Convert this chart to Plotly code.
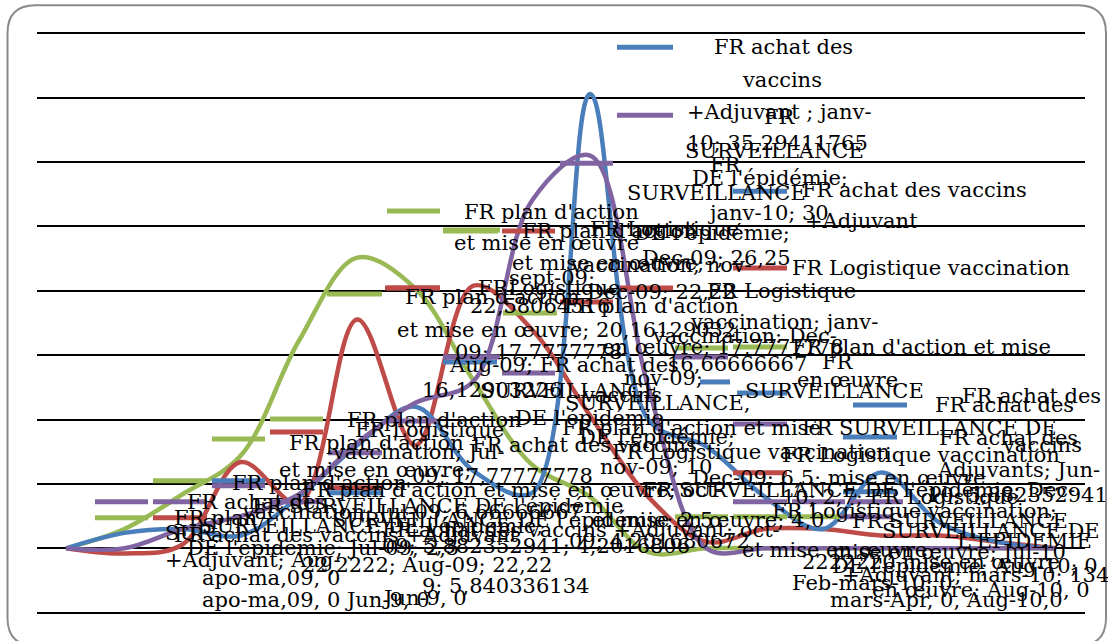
import plotly.graph_objects as go

# ---------------- data ----------------
months = ["apr-09", "may-09", "Jun-09", "Jul-09", "Aug-09", "sept-09", "oct-09", "nov-09",
          "Dec-09", "janv-10", "Feb-10", "mars-10", "Apr-10", "May-10", "Jun-10", "Jul-10",
          "Aug-10", "sept-10"]

achat_vaccins = [0, 1.2, 1.5, 1.0, 4.0, 8.0, 11.0, 6.0, 4.3, 35.29411765, 10.0, 7.9, 4.0, 1.5,
                 5.882352941, 2.0, 0.5, 0]
surveillance = [0, 0, 1.5, 2.5, 4.2, 8.2, 11.3, 13.0, 27.0, 30.5, 12.5, 0, 0, 0, 0, 0, 0, 0]
logistique = [0, -0.4, 0.3, 6.7, 3.5, 17.7777778, 8.0, 20.4, 17.0, 10.3, 4.0, 0.5, 1.5,
              1.5, 1.0, 1.0, 0.5, 0]
plan_action = [0, 1.5, 4.2, 7.2, 16.12903226, 22.58064516, 20.16129032, 13.0, 6.5, 4.0, -0.3,
               0, 0, 0, 0, 0, 0, 0]

series_names = ["FR achat des vaccins +Adjuvant", "FR SURVEILLANCE DE l'épidémie",
                "FR Logistique vaccination", "FR plan d'action et mise en œuvre"]
series_colors = ["#4A7EBB", "#8064A2", "#BE4B48", "#98B954"]

y_ticks = [-5, 0, 5, 10, 15, 20, 25, 30, 35, 40]

# data-label texts (as they appear, overlapping) : text, left px, middle px
data_labels = [
    ("FR achat des", 712, 47), ("vaccins", 740, 80),
    ("+Adjuvant ; janv-", 685, 112), ("FR", 762, 117),
    ("10; 35,29411765", 685, 143), ("SURVEILLANCE", 683, 151),
    ("FR", 708, 165), ("DE l'épidémie;", 690, 178),
    ("SURVEILLANCE", 625, 193), ("FR achat des vaccins", 800, 190),
    ("FR plan d'action", 462, 212), ("janv-10; 30", 705, 213),
    ("+Adjuvant", 803, 221), ("DE l'épidémie;", 632, 233),
    ("FR plan d'action", 520, 231), ("FR Logistique", 588, 229),
    ("et mise en œuvre", 452, 243), ("Dec-09; 26,25", 640, 258),
    ("et mise en œuvre;", 510, 263), ("vaccination; nov-", 568, 265),
    ("FR Logistique vaccination", 790, 268), ("sept-09;", 507, 278),
    ("FR Logistique", 705, 291), ("FR plan d'action", 403, 297),
    ("FRLogistique", 476, 288), ("Dec-09; 22,22", 585, 292),
    ("22,58064516", 468, 306), ("FR plan d'action", 562, 306),
    ("vaccination; janv-", 688, 322), ("et mise en œuvre; 20,16129032", 395, 330),
    ("vaccination: Dec-", 650, 336), ("09; 17,7777778", 453, 352),
    ("en œuvre; 17,7777778", 600, 347), ("FR plan d'action et mise", 790, 347),
    ("Aug-09; FR achat des", 447, 365), ("16,66666667", 665, 364),
    ("FR", 820, 362), ("en œuvre", 795, 380), ("nov-09;", 622, 378),
    ("16,12903226", 420, 390), ("SURVEILLANCE", 478, 391),
    ("vaccins", 580, 395), ("SURVEILLANCE", 743, 391),
    ("FR achat des", 933, 405), ("FR achat des", 960, 396),
    ("SURVEILLANCE,", 563, 403), ("FR plan d'action", 345, 420),
    ("FR Logistique", 353, 430), ("DE l'épidémie", 513, 418),
    ("FR SURVEILLANCE DE", 800, 428), ("FR plan d'action et mise", 560, 428),
    ("FR plan d'action", 287, 443), ("DE l'épidémie;", 577, 437),
    ("FR achat des", 937, 438), ("vaccination; Jul-", 330, 452),
    ("FR achat des vaccins", 470, 445), ("FR Logistique vaccination", 610, 452),
    ("FR Logistique vaccination", 780, 455), ("vaccins", 1000, 445),
    ("et mise en œuvre;", 277, 470), ("nov-09; 10", 598, 467),
    ("09; 17,77777778", 410, 476), ("Adjuvants; Jun-", 935, 470),
    ("Dec-09; 6,5; mise en œuvre", 690, 478), ("FR plan d'action", 230, 483),
    ("FR plan d'action et mise en œuvre; oct-", 300, 490),
    ("FR SURVEILLANCE DE l'épidémie; Dec-", 640, 490),
    ("10; 5,882352941", 925, 495), ("10; 2,7; FR Logistique", 780, 497),
    ("FR achat des", 185, 502), ("FR SURVEILLANCE DE l'épidémie", 250, 506),
    ("vaccination; Jul-09; 6,66666667", 240, 512), ("FR Logistique vaccination;", 770, 511),
    ("FR plan", 172, 518), ("SURVEILLANCE DE l'épidémie; 2,5", 330, 520),
    ("et mise en œuvre; 4,0", 590, 520), ("FR SURVEILLANCE", 850, 521),
    ("SURVEILLANCE DE l'épidémie;", 200, 526), ("FR achat des vaccins +Adjuvant; oct-", 380, 530),
    ("SURVEILLANCE DE", 880, 531), ("SUR", 163, 533),
    ("FR achat des vaccins +Adjuvant", 172, 535), ("09; 4,201680672", 567, 541),
    ("L'EPIDEMIE", 955, 541), ("DE l'épidémie; Jul-09; 2,5", 185, 548),
    ("09; 5,882352941; 4,2016806", 380, 546), ("et mise en œuvre", 740, 550),
    ("mise en œuvre; Jul-10", 830, 552), ("+Adjuvant; Aug-", 163, 560),
    ("22,2222; Aug-09; 22,22", 300, 565), ("DE l'épidémie; Aug-10; 0", 830, 566),
    ("2222220 mise en œuvre", 800, 562), ("+Adjuvant; mars-10; 134", 840, 575),
    ("apo-ma,09, 0", 200, 578), ("9; 5,840336134", 420, 586),
    ("Feb-mars-10; 0", 790, 583), ("en œuvre; Aug-10, 0", 870, 590),
    ("apo-ma,09, 0 Jun-9, 0", 200, 600), ("Jun-9, 0", 380, 598),
    ("mars-Apr, 0, Aug-10,0", 828, 600),
]

# small coloured legend keys that Excel drew beside the data labels: colour index, x0, x1, y
label_keys = [
    (0, 617, 673, 47), (1, 617, 673, 115), (1, 560, 613, 163), (0, 733, 787, 191),
    (2, 733, 787, 268), (3, 387, 440, 211), (3, 443, 498, 231), (2, 502, 555, 231),
    (2, 387, 440, 288), (2, 560, 613, 302), (2, 620, 673, 288), (3, 503, 557, 313),
    (3, 327, 382, 294), (2, 385, 440, 288), (3, 270, 323, 419), (2, 270, 323, 432),
    (3, 212, 265, 439), (1, 328, 382, 453), (3, 153, 207, 481), (0, 212, 265, 481),
    (1, 212, 265, 486), (1, 95, 148, 502), (1, 153, 207, 502), (1, 270, 323, 502),
    (3, 95, 148, 518), (2, 153, 207, 518), (1, 387, 437, 421), (2, 327, 382, 488),
    (0, 327, 382, 493), (1, 443, 497, 357), (0, 443, 497, 362), (1, 502, 555, 373),
    (3, 675, 728, 348), (1, 675, 728, 357), (0, 700, 730, 382), (0, 737, 787, 393),
    (1, 733, 787, 424), (2, 733, 787, 473), (1, 733, 787, 502), (3, 675, 728, 517),
    (3, 733, 787, 347), (0, 853, 907, 405), (0, 843, 897, 437), (0, 843, 897, 492),
    (1, 792, 845, 502), (1, 850, 903, 502), (3, 733, 787, 517), (3, 792, 845, 517),
    (1, 840, 893, 517), (3, 443, 500, 230), (1, 443, 500, 357),
]

# ---------------- geometry helpers (plot area 37..1085 x 33..613 px) ----------------
PL, PR, PT, PB = 37, 1085, 33, 613
EXT = 0.1  # small extension of the y range so that the edge gridlines are drawn
PXU = (PB - PT) / (y_ticks[-1] - y_ticks[0])
TOP = PT - EXT * PXU
BOT = PB + EXT * PXU


def xp(px):
    return (px - PL) / (PR - PL)


def yp(py):
    return (BOT - py) / (BOT - TOP)


fig = go.Figure()
for vals, name, col in zip([plan_action, logistique, achat_vaccins, surveillance],
                           [series_names[3], series_names[2], series_names[0], series_names[1]],
                           [series_colors[3], series_colors[2], series_colors[0], series_colors[1]]):
    fig.add_trace(go.Scatter(x=months, y=vals, mode="lines", name=name,
                             line=dict(color=col, width=4.5, shape="spline", smoothing=1.0),
                             hoverinfo="skip"))

annotations = []
for txt, x, y in data_labels:
    annotations.append(dict(text=txt, x=xp(x), y=yp(y), xref="paper", yref="paper",
                            xanchor="left", yanchor="middle", showarrow=False,
                            font=dict(family="DejaVu Serif", size=21, color="black")))

shapes = []
for ci, x0, x1, y in label_keys:
    shapes.append(dict(type="line", xref="paper", yref="paper", x0=xp(x0), x1=xp(x1),
                       y0=yp(y), y1=yp(y), line=dict(color=series_colors[ci], width=5)))

# rounded chart border
L, T, R, B, r = 7.5, 5, 1106, 646, 28
path = (f"M {xp(L + r)} {yp(T)} L {xp(R - r)} {yp(T)} Q {xp(R)} {yp(T)} {xp(R)} {yp(T + r)} "
        f"L {xp(R)} {yp(B - r)} Q {xp(R)} {yp(B)} {xp(R - r)} {yp(B)} "
        f"L {xp(L + r)} {yp(B)} Q {xp(L)} {yp(B)} {xp(L)} {yp(B - r)} "
        f"L {xp(L)} {yp(T + r)} Q {xp(L)} {yp(T)} {xp(L + r)} {yp(T)} Z")
shapes.append(dict(type="path", xref="paper", yref="paper", path=path,
                   line=dict(color="#8A8A8A", width=2), layer="below"))

fig.update_layout(
    width=1108, height=641,
    margin=dict(l=PL, r=1108 - PR, t=TOP, b=641 - BOT, pad=0, autoexpand=False),
    paper_bgcolor="white", plot_bgcolor="white",
    showlegend=False,
    xaxis=dict(type="category", range=[-0.5, len(months) - 0.5], showticklabels=False,
               showgrid=False, zeroline=False, showline=False, ticks=""),
    yaxis=dict(range=[y_ticks[0] - EXT, y_ticks[-1] + EXT], tickvals=y_ticks,
               showticklabels=False, showgrid=True, gridcolor="black", gridwidth=2,
               zeroline=True, zerolinecolor="black", zerolinewidth=2, showline=False,
               ticks=""),
    annotations=annotations, shapes=shapes,
)

fig.write_html("out.html", config={"displayModeBar": False},
               post_script="document.body.style.margin='0';document.body.style.overflow='hidden';")
